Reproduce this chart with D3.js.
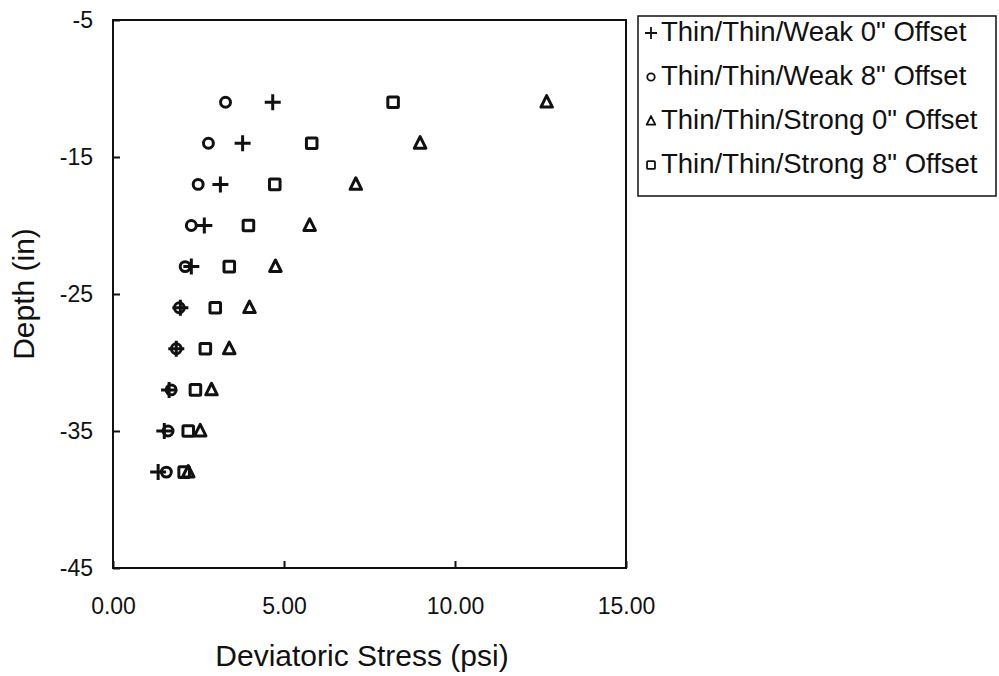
<!DOCTYPE html>
<html>
<head>
<meta charset="utf-8">
<script src="https://cdn.jsdelivr.net/npm/d3@7"></script>
<style>
  html, body { margin: 0; padding: 0; background: #fff; }
  svg { display: block; }
  text { font-family: "Liberation Sans", Arial, sans-serif; fill: #111; }
</style>
</head>
<body>
<svg id="chart" width="999" height="676"></svg>
<script>
// Depth of each measurement (in)
const depths = [-11, -14, -17, -20, -23, -26, -29, -32, -35, -38];

// Deviatoric stress (psi) per configuration
const weak0   = [4.67, 3.79, 3.14, 2.67, 2.29, 1.97, 1.85, 1.64, 1.50, 1.32];
const weak8   = [3.29, 2.79, 2.49, 2.29, 2.11, 1.94, 1.85, 1.70, 1.61, 1.56];
const strong0 = [12.68, 8.98, 7.10, 5.75, 4.75, 3.99, 3.40, 2.88, 2.55, 2.20];
const strong8 = [8.19, 5.81, 4.73, 3.96, 3.40, 2.99, 2.70, 2.41, 2.20, 2.08];

const xTicks = [0, 5, 10, 15];
const yTicks = [-5, -15, -25, -35, -45];

const seriesNames = [
  'Thin/Thin/Weak 0" Offset',
  'Thin/Thin/Weak 8" Offset',
  'Thin/Thin/Strong 0" Offset',
  'Thin/Thin/Strong 8" Offset'
];
const seriesValues = [weak0, weak8, strong0, strong8];
const seriesSymbols = ["plus", "circle", "triangle", "square"];

const svg = d3.select("#chart");
const plot = { left: 113, right: 626, top: 20, bottom: 568 };

const x = d3.scaleLinear().domain([0, 15]).range([plot.left, plot.right]);
const y = d3.scaleLinear().domain([-5, -45]).range([plot.top, plot.bottom]);

// frame
svg.append("rect")
  .attr("x", plot.left).attr("y", plot.top)
  .attr("width", plot.right - plot.left).attr("height", plot.bottom - plot.top)
  .attr("fill", "none").attr("stroke", "#111").attr("stroke-width", 2);

// axes with inward ticks
const xAxis = d3.axisBottom(x).tickValues(xTicks).tickSize(-7).tickPadding(30)
  .tickFormat(d3.format(".2f"));
const gx = svg.append("g").attr("transform", `translate(0,${plot.bottom})`).call(xAxis);
gx.select(".domain").remove();
gx.selectAll("line").attr("stroke", "#111").attr("stroke-width", 2);
gx.selectAll("text").attr("font-size", 23).attr("fill", "#111")
  .attr("font-family", "Liberation Sans, Arial, sans-serif");

const yAxis = d3.axisLeft(y).tickValues(yTicks).tickSize(-7).tickPadding(20)
  .tickFormat(d => String(d));
const gy = svg.append("g").attr("transform", `translate(${plot.left},0)`).call(yAxis);
gy.select(".domain").remove();
gy.selectAll("line").attr("stroke", "#111").attr("stroke-width", 2);
gy.selectAll("text").attr("font-size", 23).attr("fill", "#111")
  .attr("font-family", "Liberation Sans, Arial, sans-serif");

// axis titles
svg.append("text")
  .attr("x", 362).attr("y", 666)
  .attr("text-anchor", "middle").attr("font-size", 30)
  .text("Deviatoric Stress (psi)");

svg.append("text")
  .attr("transform", `translate(34,${(plot.top + plot.bottom) / 2}) rotate(-90)`)
  .attr("text-anchor", "middle").attr("font-size", 30)
  .text("Depth (in)");

// marker drawing
function drawMarker(g, type, size, sw) {
  const h = size / 2;
  if (type === "plus") {
    g.append("path").attr("d", `M${-h},0H${h}M0,${-h}V${h}`)
      .attr("stroke", "#111").attr("stroke-width", sw).attr("fill", "none");
  } else if (type === "circle") {
    g.append("circle").attr("r", h * 0.62)
      .attr("stroke", "#111").attr("stroke-width", sw).attr("fill", "none");
  } else if (type === "square") {
    const s = h * 0.66;
    g.append("rect").attr("x", -s).attr("y", -s).attr("width", 2 * s).attr("height", 2 * s)
      .attr("rx", 1)
      .attr("stroke", "#111").attr("stroke-width", sw).attr("fill", "none");
  } else if (type === "triangle") {
    const s = h * 0.72;
    g.append("path").attr("d", `M0,${-s * 1.15}L${s},${s * 0.85}L${-s},${s * 0.85}Z`)
      .attr("stroke", "#111").attr("stroke-width", sw).attr("fill", "none")
      .attr("stroke-linejoin", "round");
  }
}

const pointsLayer = svg.append("g");
seriesValues.forEach((vals, si) => {
  vals.forEach((v, i) => {
    const g = pointsLayer.append("g")
      .attr("transform", `translate(${x(v)},${y(depths[i])})`);
    drawMarker(g, seriesSymbols[si], 16, 3);
  });
});

// legend
const legend = svg.append("g");
legend.append("rect")
  .attr("x", 638).attr("y", 16).attr("width", 358).attr("height", 180)
  .attr("fill", "#fff").attr("stroke", "#111").attr("stroke-width", 1.5);

seriesNames.forEach((name, i) => {
  const cy = 31 + i * 44;
  const g = legend.append("g").attr("transform", `translate(651,${cy + 2})`);
  drawMarker(g, seriesSymbols[i], 12, 1.8);
  legend.append("text")
    .attr("x", 661).attr("y", cy + 10)
    .attr("font-size", 27.5)
    .text(name);
});
</script>
</body>
</html>
